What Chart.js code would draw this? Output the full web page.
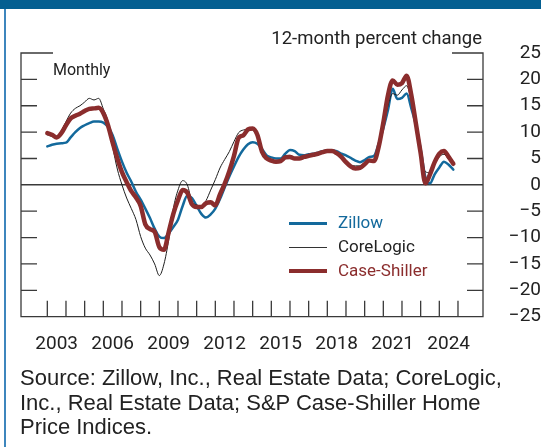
<!DOCTYPE html>
<html>
<head>
<meta charset="utf-8">
<script src="https://cdn.jsdelivr.net/npm/chart.js@4"></script>
<style>
  body { margin: 0; background: #fff; }
  #wrap { position: relative; width: 541px; height: 447px; overflow: hidden; font-family: Roboto, sans-serif; color: #222; }
  #banner { position: absolute; left: 0; top: 0; width: 541px; height: 9px; background: #045f91; }
  #edge { position: absolute; left: 4px; top: 9px; width: 2px; height: 438px; background: #3d86bd; }
  #chart { position: absolute; left: 0; top: 0; }
  .txt { position: absolute; white-space: nowrap; }
  #unit { right: 59px; top: 27px; font-size: 18.5px; }
  #freq { left: 53px; top: 60px; font-size: 16px; }
  .leg { position: absolute; left: 289px; height: 20px; }
  .leg span.sw { position: absolute; left: 0; width: 38px; }
  .leg span.lb { position: absolute; left: 49px; top: -1px; font-size: 17px; white-space: nowrap; }
  #note { left: 20px; top: 366px; font-family: "Liberation Sans", Arial, sans-serif; font-size: 22px; line-height: 24.5px; }
</style>
</head>
<body>
<div id="wrap">
  <div id="banner"></div>
  <div id="edge"></div>
  <canvas id="chart" width="541" height="447"></canvas>
  <div class="txt" id="unit">12-month percent change</div>
  <div class="txt" id="freq">Monthly</div>
  <div class="leg" style="top:213px"><span class="sw" style="top:9px;height:2.5px;background:#13699c"></span><span class="lb" style="color:#13699c">Zillow</span></div>
  <div class="leg" style="top:237px"><span class="sw" style="top:10px;height:1px;background:#333"></span><span class="lb" style="color:#222">CoreLogic</span></div>
  <div class="leg" style="top:261px"><span class="sw" style="top:8px;height:4px;background:#8b2d2d"></span><span class="lb" style="color:#8b2d2d">Case-Shiller</span></div>
  <div class="txt" id="note">Source: Zillow, Inc., Real Estate Data; CoreLogic,<br>Inc., Real Estate Data; S&amp;P Case-Shiller Home<br>Price Indices.</div>
</div>
<script>
// quarterly readings, 2003 Q1 .. 2024 Q4
var dates = [];
for (var yr = 2003; yr <= 2024; yr++) {
  for (var q = 0; q < 4; q++) dates.push(yr + q / 4);
}

var zillow = [
  7.3, 7.6, 7.8, 7.9,   8.0, 9.0, 10.0, 10.8,   11.3, 11.7, 12.0, 12.0,
  11.8, 11.0, 9.4, 6.8,   4.4, 2.3, 0.6, -1.3,   -2.8, -4.5, -6.3, -8.3,
  -9.8, -10.1, -9.2, -8.0,   -6.6, -4.0, -2.0, -2.5,   -4.0, -5.5, -6.2, -5.6,
  -4.5, -2.7, -0.5, 1.6,   3.5, 5.3, 6.7, 7.7,   8.1, 7.8, 6.8, 5.6,
  5.2, 5.0, 5.0, 5.9,   6.6, 6.4, 5.7, 5.6,   5.8, 5.9, 6.1, 6.4,
  6.5, 6.5, 6.4, 5.9,   5.6, 5.1, 4.6, 4.3,   4.7, 5.3, 5.5, 7.8,
  10.7, 14.2, 18.2, 16.3,   16.5, 17.3, 14.5, 11.3,   6.8, 1.5, 0.3, 2.0,
  3.3, 4.4, 3.8, 2.9
];
var coreLogic = [
  9.5, 9.2, 9.2, 10.3,   12.0, 13.6, 14.5, 15.0,   15.7, 16.4, 16.1, 16.4,
  14.4, 12.0, 7.2, 3.0,   0.0, -2.5, -4.5, -6.6,   -9.8, -12.0, -13.3, -15.0,
  -17.2, -15.0, -10.5, -4.5,   -1.0, 0.8, 0.0, -3.2,   -3.8, -4.0, -3.0, -1.0,
  1.0, 3.2, 4.8, 6.3,   8.2, 9.9, 10.4, 10.5,   10.4, 9.0, 6.6, 5.2,
  4.7, 4.6, 4.8, 5.5,   5.6, 5.2, 5.1, 5.4,   5.7, 5.8, 6.0, 6.2,
  6.4, 6.4, 5.9, 5.1,   4.3, 3.7, 3.6, 3.6,   4.2, 4.8, 4.6, 7.0,
  11.0, 15.0, 17.3, 17.0,   18.0, 18.8, 15.8, 11.0,   6.5, 2.5, 2.3, 4.0,
  5.3, 5.8, 4.8, 3.7
];
var caseShiller = [
  9.8, 9.5, 9.0, 9.8,   11.3, 12.6, 13.1, 13.5,   14.0, 14.4, 14.5, 14.6,
  13.6, 11.3, 8.0, 5.0,   2.4, 0.5, -1.2, -2.4,   -4.0, -7.5, -8.4, -8.9,
  -11.8, -12.3, -9.0, -5.5,   -2.9, -1.0, -1.5, -3.7,   -4.2, -4.2, -3.5, -3.3,
  -3.9, -1.8, 0.2, 2.6,   5.5, 8.9, 9.4, 10.5,   10.7, 9.5, 6.3, 5.0,
  4.6, 4.4, 4.5, 5.2,   5.3, 5.0, 5.0, 5.3,   5.5, 5.7, 5.9, 6.2,
  6.4, 6.4, 6.0, 5.3,   4.3, 3.5, 3.1, 3.2,   3.9, 4.6, 4.5, 7.2,
  11.8, 17.0, 19.8, 19.0,   19.3, 20.7, 17.0, 11.5,   6.0, 0.3, 2.0, 4.3,
  5.9, 6.4, 5.3, 4.0
];

var labelYears = [2003, 2006, 2009, 2012, 2015, 2018, 2021, 2024];
var tickYears = [2003, 2004, 2005, 2006, 2007, 2008, 2009, 2010, 2011, 2012, 2013, 2014,
  2015, 2016, 2017, 2018, 2019, 2020, 2021, 2022, 2023, 2024, 2025];
var yTicks = [-20, -15, -10, -5, 5, 10, 15, 20];

function pts(vals) {
  return vals.map(function (v, i) { return { x: dates[i], y: v }; });
}

// axis box with inward ticks, like the print version
var frame = {
  id: 'frame',
  beforeDatasetsDraw: function (chart) {
    var c = chart.ctx, a = chart.chartArea;
    var xs = chart.scales.x, ys = chart.scales.y;
    c.save();
    c.strokeStyle = '#3a3a3a';
    c.lineWidth = 1.3;
    c.beginPath();
    c.moveTo(a.left + 32, a.top); c.lineTo(a.left, a.top);
    c.lineTo(a.left, a.bottom); c.lineTo(a.right, a.bottom);
    c.lineTo(a.right, a.top); c.lineTo(a.right - 31, a.top);
    yTicks.forEach(function (v) {
      var py = ys.getPixelForValue(v);
      c.moveTo(a.left, py); c.lineTo(a.left + 16, py);
      c.moveTo(a.right, py); c.lineTo(a.right - 16, py);
    });
    tickYears.forEach(function (t) {
      var px = xs.getPixelForValue(t);
      c.moveTo(px, a.bottom); c.lineTo(px, a.bottom - 16);
    });
    c.stroke();
    var zy = ys.getPixelForValue(0);
    c.lineWidth = 1.5;
    c.beginPath();
    c.moveTo(a.left, zy); c.lineTo(a.right, zy);
    c.stroke();
    c.restore();
  }
};

var ctx = document.getElementById('chart');
var chart = new Chart(ctx, {
  type: 'line',
  data: {
    datasets: [{
      label: 'Case-Shiller',
      data: pts(caseShiller),
      borderColor: '#8b2d2d',
      borderWidth: 4.5,
      order: 0
    }, {
      label: 'CoreLogic',
      data: pts(coreLogic),
      borderColor: '#1e1e1e',
      borderWidth: 1,
      order: 1
    }, {
      label: 'Zillow',
      data: pts(zillow),
      borderColor: '#13699c',
      borderWidth: 2.5,
      order: 2
    }]
  },
  options: {
    responsive: false,
    animation: false,
    events: [],
    layout: { padding: { left: 21, top: 53, right: 0, bottom: 0 } },
    elements: {
      point: { radius: 0 },
      line: { cubicInterpolationMode: 'monotone', borderCapStyle: 'round', borderJoinStyle: 'round' }
    },
    plugins: { legend: { display: false }, tooltip: { enabled: false } },
    scales: {
      x: {
        type: 'linear',
        position: 'bottom',
        min: 2001.59,
        max: 2026.34,
        grid: { display: false },
        border: { display: false },
        afterBuildTicks: function (s) {
          s.ticks = labelYears.map(function (y) { return { value: y + 0.5 }; });
        },
        afterFit: function (s) { s.height = 130.3; },
        ticks: {
          autoSkip: false,
          maxRotation: 0,
          padding: 8,
          color: '#222',
          font: { family: 'Roboto', size: 19 },
          callback: function (v) { return String(Math.floor(v)); }
        }
      },
      y: {
        position: 'right',
        min: -25,
        max: 25,
        grid: { display: false },
        border: { display: false },
        afterFit: function (s) { s.width = 58; },
        ticks: {
          stepSize: 5,
          padding: 16,
          crossAlign: 'far',
          color: '#222',
          font: { family: 'Roboto', size: 19 },
          callback: function (v) { return v < 0 ? '\u2212' + Math.abs(v) : String(v); }
        }
      }
    }
  },
  plugins: [frame]
});
</script>
</body>
</html>
